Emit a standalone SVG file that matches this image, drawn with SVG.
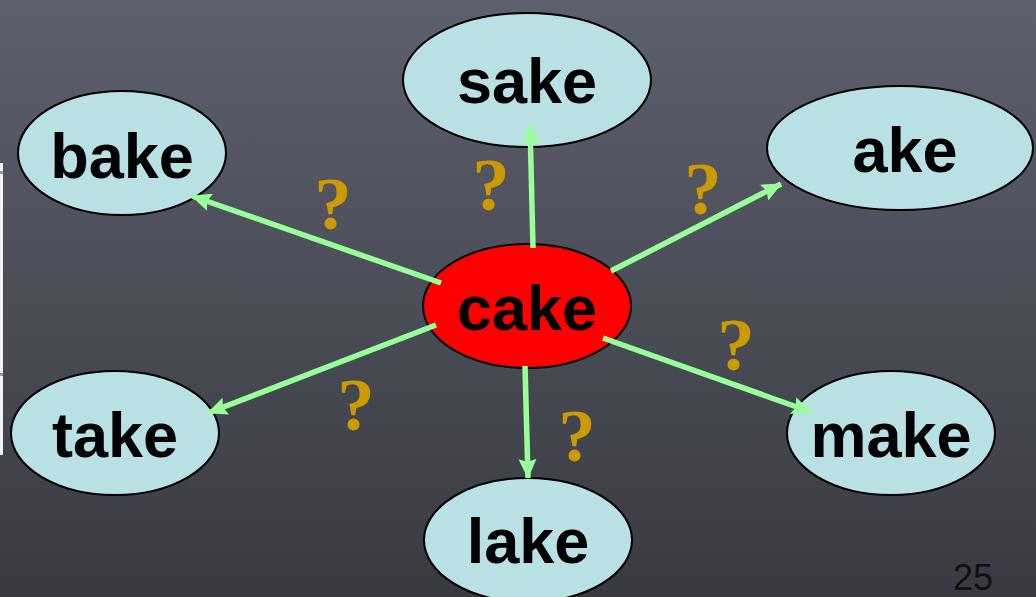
<svg xmlns="http://www.w3.org/2000/svg" width="1036" height="597" viewBox="0 0 1036 597">
  <defs>
    <linearGradient id="bg" x1="0" y1="0" x2="0" y2="1">
      <stop offset="0" stop-color="#5d606d"/>
      <stop offset="1" stop-color="#393a41"/>
    </linearGradient>
    <marker id="head" viewBox="0 0 20 18" refX="19" refY="9" markerWidth="20" markerHeight="18" markerUnits="userSpaceOnUse" orient="auto">
      <path d="M0,0 L20,9 L0,18 L3,9 z" fill="#99ff99"/>
    </marker>
    <style>
      .word { fill: #b9e0e3; stroke: #000; stroke-width: 2; }
      .hub { fill: #ff0000; stroke: #000; stroke-width: 2; }
      .label { font-family: "Liberation Sans", Arial, sans-serif; font-weight: bold; font-size: 63px; fill: #000; text-anchor: middle; }
      .link { stroke: #99ff99; stroke-width: 5.5; fill: none; marker-end: url(#head); }
      .q { font-family: "Liberation Serif", "Times New Roman", serif; font-weight: bold; font-size: 75px; fill: #cc9900; text-anchor: middle; }
    </style>
  </defs>

  <rect x="0" y="0" width="1036" height="597" fill="url(#bg)"/>

  <!-- thin panel strip at the left edge -->
  <rect x="0" y="163" width="3" height="292" fill="#f2f2f2"/>
  <rect x="0" y="171" width="3" height="3" fill="#9a9a9a"/>
  <rect x="0" y="373" width="3" height="3" fill="#9a9a9a"/>

  <g id="node-sake">
    <ellipse class="word" cx="527" cy="80" rx="124" ry="67"/>
    <text class="label" x="527" y="103">sake</text>
  </g>
  <g id="node-bake">
    <ellipse class="word" cx="122" cy="153" rx="104" ry="62"/>
    <text class="label" x="122" y="178">bake</text>
  </g>
  <g id="node-ake">
    <ellipse class="word" cx="900" cy="148" rx="133" ry="62"/>
    <text class="label" x="905" y="172">ake</text>
  </g>
  <g id="node-cake">
    <ellipse class="hub" cx="527" cy="306" rx="104" ry="62"/>
    <text class="label" x="527" y="330">cake</text>
  </g>
  <g id="node-take">
    <ellipse class="word" cx="115" cy="433" rx="104" ry="62"/>
    <text class="label" x="115" y="457">take</text>
  </g>
  <g id="node-make">
    <ellipse class="word" cx="891" cy="433" rx="104" ry="62"/>
    <text class="label" x="891" y="457">make</text>
  </g>
  <g id="node-lake">
    <ellipse class="word" cx="528" cy="540" rx="104" ry="62"/>
    <text class="label" x="528" y="563">lake</text>
  </g>

  <!-- arrows sit on top of the ellipses -->
  <g id="connectors">
    <line class="link" x1="441" y1="283" x2="192" y2="196"/>
    <line class="link" x1="533" y1="248" x2="530" y2="125"/>
    <line class="link" x1="611" y1="271" x2="781" y2="184"/>
    <line class="link" x1="436" y1="325" x2="208" y2="413"/>
    <line class="link" x1="525" y1="366" x2="528" y2="478"/>
    <line class="link" x1="603" y1="338" x2="811" y2="412"/>
  </g>

  <g id="question-marks">
    <text class="q" x="333" y="229">?</text>
    <text class="q" x="491" y="210">?</text>
    <text class="q" x="703" y="214">?</text>
    <text class="q" x="736" y="370">?</text>
    <text class="q" x="356" y="430">?</text>
    <text class="q" x="577" y="461">?</text>
  </g>

  <text x="973" y="590" font-family="Liberation Sans, Arial, sans-serif" font-size="36" fill="#111" text-anchor="middle">25</text>
</svg>
